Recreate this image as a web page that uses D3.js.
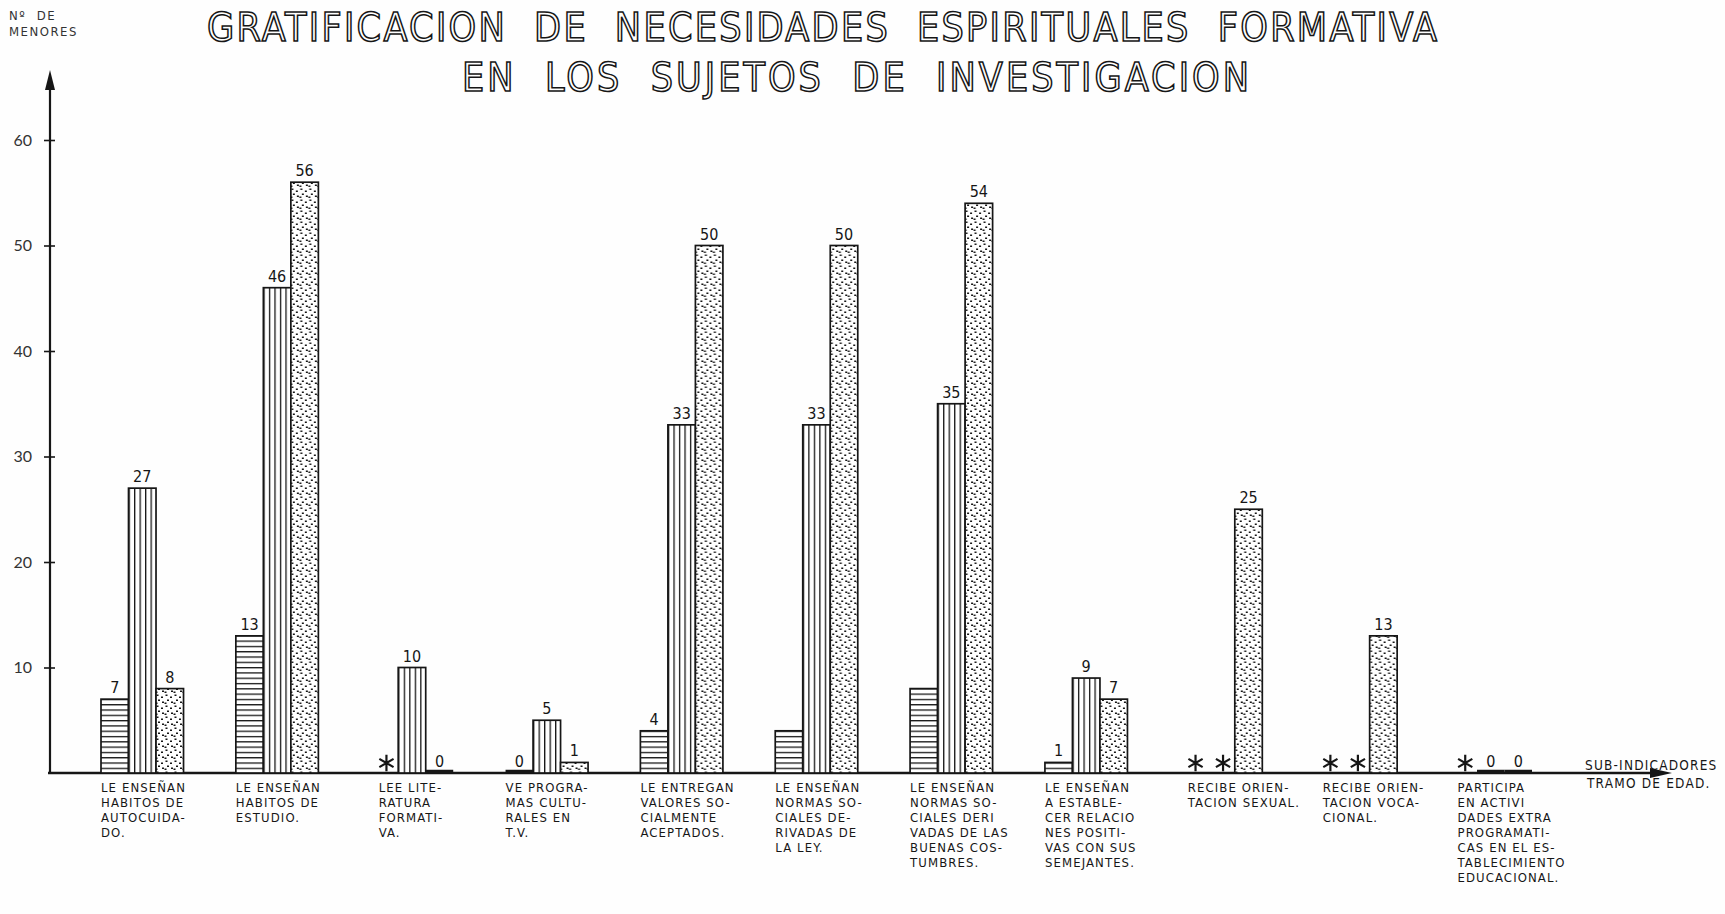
<!DOCTYPE html>
<html>
<head>
<meta charset="utf-8">
<script src="https://cdn.jsdelivr.net/npm/d3@7"></script>
<style>
	body { margin: 0; background: #fff; }
	svg { display: block; }
</style>
</head>
<body>
<div id="wrapper"></div>
<script>

// data (null = marked with an asterisk, no data)
const categories = [
	["LE ENSEÑAN", "HABITOS DE", "AUTOCUIDA-", "DO."],
	["LE ENSEÑAN", "HABITOS DE", "ESTUDIO."],
	["LEE LITE-", "RATURA", "FORMATI-", "VA."],
	["VE PROGRA-", "MAS CULTU-", "RALES EN", "T.V."],
	["LE ENTREGAN", "VALORES SO-", "CIALMENTE", "ACEPTADOS."],
	["LE ENSEÑAN", "NORMAS SO-", "CIALES DE-", "RIVADAS DE", "LA LEY."],
	["LE ENSEÑAN", "NORMAS SO-", "CIALES DERI", "VADAS DE LAS", "BUENAS COS-", "TUMBRES."],
	["LE ENSEÑAN", "A ESTABLE-", "CER RELACIO", "NES POSITI-", "VAS CON SUS", "SEMEJANTES."],
	["RECIBE ORIEN-", "TACION SEXUAL."],
	["RECIBE ORIEN-", "TACION VOCA-", "CIONAL."],
	["PARTICIPA", "EN ACTIVI", "DADES EXTRA", "PROGRAMATI-", "CAS EN EL ES-", "TABLECIMIENTO", "EDUCACIONAL."]
];
const tramo1 = [7, 13, null, 0, 4, 4, 8, 1, null, null, null];
const tramo2 = [27, 46, 10, 5, 33, 33, 35, 9, null, null, 0];
const tramo3 = [8, 56, 0, 1, 50, 50, 54, 7, 25, 13, 0];
const seriesKeys = ["tramo1", "tramo2", "tramo3"];
const unlabeled = [[5, 0], [6, 0]];
const yTicks = [10, 20, 30, 40, 50, 60];
const titleLines = ["GRATIFICACION  DE  NECESIDADES  ESPIRITUALES  FORMATIVA", "EN  LOS  SUJETOS  DE  INVESTIGACION"];

function drawChart(){

	// 1. Dimensions

	const width = 1725;
	const height = 914;
	const ink = "#161616";
	const labelFont = "'DejaVu Sans Condensed', 'DejaVu Sans', sans-serif";

	// 2. Scales

	const x = d3.scaleBand()
				.domain(d3.range(categories.length))
				.range([101, 1532])
				.paddingInner(0.388)
				.paddingOuter(0);
	const xSeries = d3.scaleBand()
				.domain(seriesKeys)
				.range([0, x.bandwidth()]);
	const y = d3.scaleLinear()
				.domain([0, 60])
				.range([773, 140]);

	const table = categories.map((c, i) => ({
		index: i,
		values: [tramo1[i], tramo2[i], tramo3[i]].map((v, s) => ({
			group: i, series: s, key: seriesKeys[s], value: v
		}))
	}));

	// 3. Static elements

	const svg = d3.select("#wrapper")
				.append("svg")
				.attr("width", width)
				.attr("height", height);

	svg.append("rect").attr("width", width).attr("height", height).attr("fill", "#fefefe");

	const defs = svg.append("defs");

	const hl = defs.append("pattern")
				.attr("id", "tramo1")
				.attr("patternUnits", "userSpaceOnUse")
				.attr("width", 10).attr("height", 5.3)
				.attr("y", y(0));
	hl.append("rect").attr("width", 10).attr("height", 5.3).attr("fill", "#fff");
	hl.append("rect").attr("width", 10).attr("height", 1.3).attr("fill", ink);

	const vl = defs.append("pattern")
				.attr("id", "tramo2")
				.attr("patternUnits", "objectBoundingBox")
				.attr("width", 0.2).attr("height", 1);
	vl.append("rect").attr("width", 40).attr("height", 900).attr("fill", "#fff");
	vl.append("rect").attr("width", 1.3).attr("height", 900).attr("fill", ink);

	const dl = defs.append("pattern")
				.attr("id", "tramo3")
				.attr("patternUnits", "userSpaceOnUse")
				.attr("width", 9).attr("height", 11);
	dl.append("rect").attr("width", 9).attr("height", 11).attr("fill", "#fff");
	[[1.5, 1.5], [6, 3.5], [3, 6.5], [7, 8.5], [0.5, 9.5]].forEach(p => {
		dl.append("rect").attr("x", p[0]).attr("y", p[1]).attr("width", 2).attr("height", 1.5).attr("fill", ink);
	});

	// 4. Title

	svg.selectAll("text.title")
		.data(titleLines)
		.enter()
		.append("text")
		.attr("class", "title")
		.attr("x", (d, i) => i == 0 ? 207 : 462)
		.attr("y", (d, i) => i == 0 ? 41 : 91)
		.attr("textLength", (d, i) => i == 0 ? 1230 : 787)
		.attr("lengthAdjust", "spacing")
		.style("font-family", "'DejaVu Sans Condensed', 'DejaVu Sans', sans-serif")
		.style("font-size", "39px")
		.style("fill", "#fff")
		.style("stroke", ink)
		.style("stroke-width", "1.5px")
		.style("white-space", "pre")
		.text(d => d);

	// 5. Axes

	const axisG = svg.append("g").style("color", ink);

	axisG.append("line")
		.attr("x1", 50).attr("x2", 50)
		.attr("y1", y(0)).attr("y2", 84)
		.attr("stroke", ink).attr("stroke-width", 2.2);
	axisG.append("path")
		.attr("d", "M50,70 L45,90 L55,90 Z")
		.attr("fill", ink);

	axisG.append("line")
		.attr("x1", 48).attr("x2", 1655)
		.attr("y1", y(0)).attr("y2", y(0))
		.attr("stroke", ink).attr("stroke-width", 2.4);
	axisG.append("path")
		.attr("d", `M1672,${y(0)} L1650,${y(0) - 5} L1650,${y(0) + 5} Z`)
		.attr("fill", ink);

	const yAxis = d3.axisLeft(y)
				.tickValues(yTicks)
				.tickSize(6)
				.tickPadding(12);
	const yG = axisG.append("g")
				.attr("transform", "translate(50,0)")
				.call(yAxis);
	yG.select(".domain").remove();
	yG.selectAll(".tick line")
		.attr("x2", 5).attr("x1", -6)
		.attr("stroke-width", 1.6);
	yG.selectAll(".tick text")
		.style("font-family", "Lato, 'Open Sans', sans-serif")
		.style("font-size", "16px")
		.style("fill", "#333");

	svg.selectAll("text.ylab")
		.data(["Nº  DE", "MENORES"])
		.enter()
		.append("text")
		.attr("class", "ylab")
		.attr("x", 9)
		.attr("y", (d, i) => 20 + i * 16)
		.style("font-family", "'DejaVu Sans Condensed', sans-serif")
		.style("font-size", "13px")
		.style("letter-spacing", "1.5px")
		.style("fill", "#333")
		.style("white-space", "pre")
		.text(d => d);

	svg.selectAll("text.xlab")
		.data(["SUB-INDICADORES", "TRAMO DE EDAD."])
		.enter()
		.append("text")
		.attr("class", "xlab")
		.attr("x", (d, i) => 1585 + i * 2)
		.attr("y", (d, i) => 770 + i * 18)
		.style("font-family", labelFont)
		.style("font-size", "13.5px")
		.style("letter-spacing", "1.2px")
		.style("fill", ink)
		.text(d => d);

	// 6. Bars

	const groups = svg.selectAll("g.group")
				.data(table)
				.enter()
				.append("g")
				.attr("class", "group")
				.attr("transform", d => `translate(${x(d.index)},0)`);

	const cells = groups.selectAll("g.cell")
				.data(d => d.values)
				.enter()
				.append("g")
				.attr("class", "cell");

	cells.filter(d => d.value > 0)
		.append("rect")
		.attr("x", d => xSeries(d.key))
		.attr("y", d => y(d.value))
		.attr("width", xSeries.bandwidth())
		.attr("height", d => y(0) - y(d.value))
		.attr("fill", d => `url(#${d.key})`)
		.attr("stroke", ink)
		.attr("stroke-width", 1.7);

	cells.filter(d => d.value === 0)
		.append("line")
		.attr("x1", d => xSeries(d.key))
		.attr("x2", d => xSeries(d.key) + xSeries.bandwidth())
		.attr("y1", y(0) - 1.5).attr("y2", y(0) - 1.5)
		.attr("stroke", ink)
		.attr("stroke-width", 3.5);

	cells.filter(d => d.value === null)
		.append("path")
		.attr("d", d3.symbol(d3.symbolAsterisk || d3.symbolCross, 190))
		.attr("transform", d => `translate(${xSeries(d.key) + xSeries.bandwidth() / 2 + 2},${y(0) - 10})`)
		.attr("fill", "none")
		.attr("stroke", ink)
		.attr("stroke-width", 2.2);

	cells.filter(d => d.value !== null && !unlabeled.some(u => u[0] == d.group && u[1] == d.series))
		.append("text")
		.attr("x", d => xSeries(d.key) + xSeries.bandwidth() / 2)
		.attr("y", d => y(d.value) - 6)
		.style("text-anchor", "middle")
		.style("font-family", labelFont)
		.style("font-size", "16px")
		.style("fill", ink)
		.text(d => d.value);

	// 7. Category labels

	groups.append("text")
		.attr("class", "cat")
		.attr("y", 792)
		.style("font-family", labelFont)
		.style("font-size", "13px")
		.style("letter-spacing", "1.1px")
		.style("fill", ink)
		.selectAll("tspan")
		.data(d => categories[d.index].map(line => ({line, shift: tramo1[d.index] === null ? 8 : 0})))
		.enter()
		.append("tspan")
		.attr("x", d => d.shift)
		.attr("dy", (d, i) => i == 0 ? 0 : 15)
		.text(d => d.line);
}

drawChart();
</script>
</body>
</html>
